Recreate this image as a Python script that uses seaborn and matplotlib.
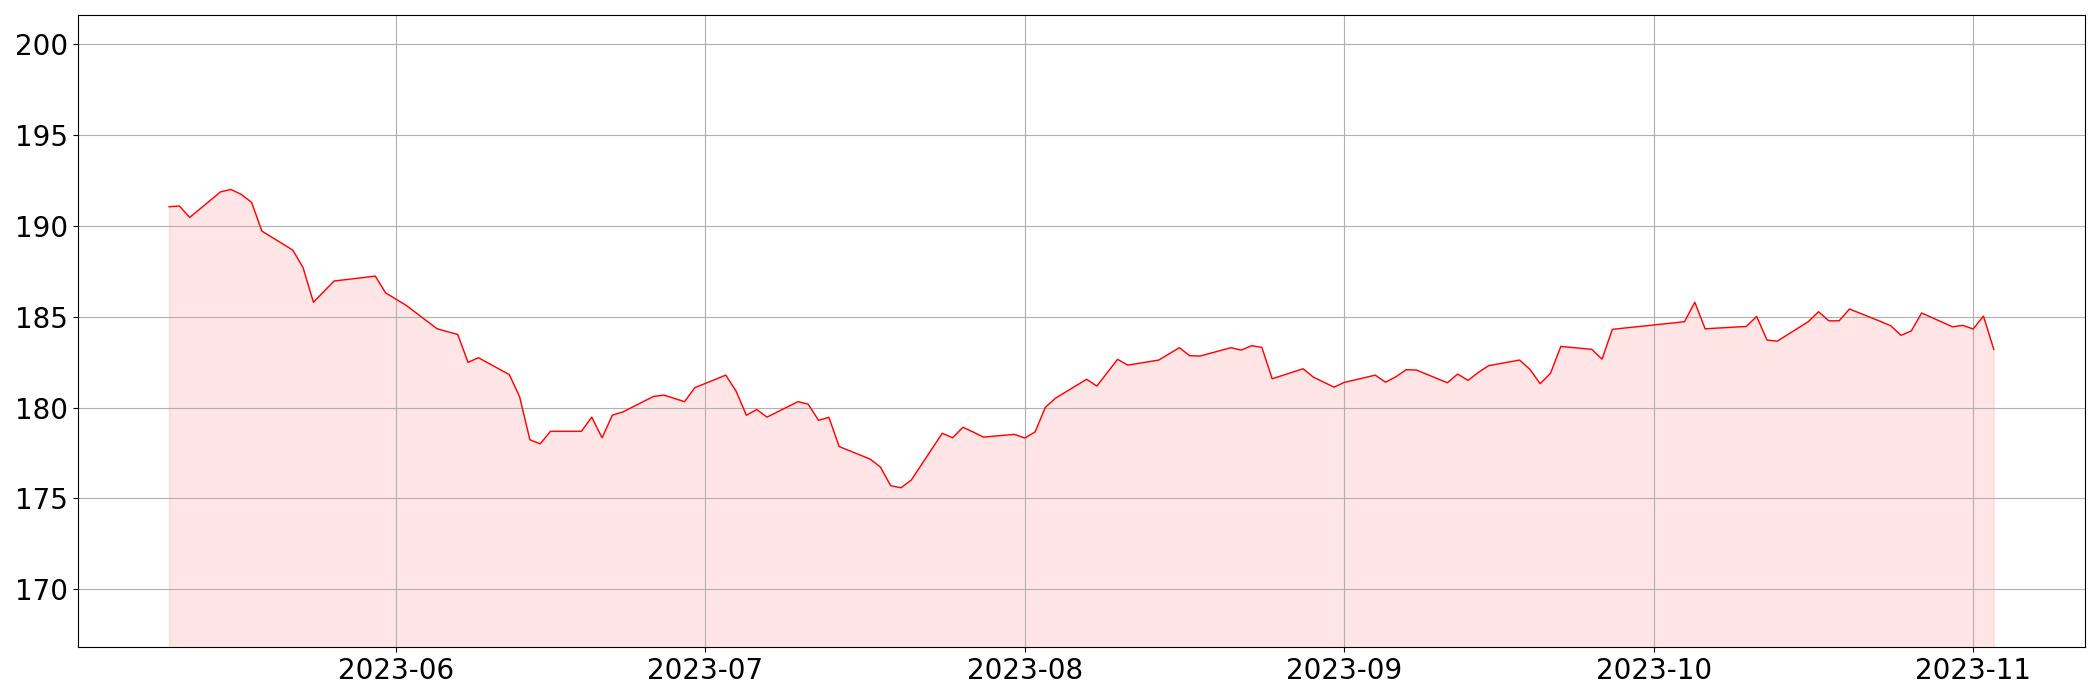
import matplotlib.pyplot as plt
import seaborn as sns
import pandas as pd

# daily closing prices
dates = [
    '2023-05-10', '2023-05-11', '2023-05-12', '2023-05-15', '2023-05-16', '2023-05-17',
    '2023-05-18', '2023-05-19', '2023-05-22', '2023-05-23', '2023-05-24', '2023-05-26',
    '2023-05-30', '2023-05-31', '2023-06-02', '2023-06-05', '2023-06-07', '2023-06-08',
    '2023-06-09', '2023-06-12', '2023-06-13', '2023-06-14', '2023-06-15', '2023-06-16',
    '2023-06-19', '2023-06-20', '2023-06-21', '2023-06-22', '2023-06-23', '2023-06-26',
    '2023-06-27', '2023-06-29', '2023-06-30', '2023-07-03', '2023-07-04', '2023-07-05',
    '2023-07-06', '2023-07-07', '2023-07-10', '2023-07-11', '2023-07-12', '2023-07-13',
    '2023-07-14', '2023-07-17', '2023-07-18', '2023-07-19', '2023-07-20', '2023-07-21',
    '2023-07-24', '2023-07-25', '2023-07-26', '2023-07-27', '2023-07-28', '2023-07-31',
    '2023-08-01', '2023-08-02', '2023-08-03', '2023-08-04', '2023-08-07', '2023-08-08',
    '2023-08-10', '2023-08-11', '2023-08-14', '2023-08-16', '2023-08-17', '2023-08-18',
    '2023-08-21', '2023-08-22', '2023-08-23', '2023-08-24', '2023-08-25', '2023-08-28',
    '2023-08-29', '2023-08-31', '2023-09-01', '2023-09-04', '2023-09-05', '2023-09-06',
    '2023-09-07', '2023-09-08', '2023-09-11', '2023-09-12', '2023-09-13', '2023-09-14',
    '2023-09-15', '2023-09-18', '2023-09-19', '2023-09-20', '2023-09-21', '2023-09-22',
    '2023-09-25', '2023-09-26', '2023-09-27', '2023-10-04', '2023-10-05', '2023-10-06',
    '2023-10-10', '2023-10-11', '2023-10-12', '2023-10-13', '2023-10-16', '2023-10-17',
    '2023-10-18', '2023-10-19', '2023-10-20', '2023-10-23', '2023-10-24', '2023-10-25',
    '2023-10-26', '2023-10-27', '2023-10-30', '2023-10-31', '2023-11-01', '2023-11-02',
    '2023-11-03',
]
prices = [
    191.06, 191.10, 190.47, 191.88, 192.01, 191.74,
    191.30, 189.72, 188.67, 187.70, 185.80, 186.97,
    187.24, 186.32, 185.63, 184.34, 184.03, 182.49,
    182.75, 181.82, 180.60, 178.23, 178.01, 178.70,
    178.70, 179.48, 178.34, 179.59, 179.76, 180.62,
    180.69, 180.33, 181.10, 181.79, 180.91, 179.58,
    179.90, 179.48, 180.33, 180.19, 179.30, 179.47,
    177.86, 177.17, 176.73, 175.70, 175.59, 176.02,
    178.59, 178.34, 178.92, 178.66, 178.38, 178.53,
    178.33, 178.66, 180.02, 180.53, 181.56, 181.19,
    182.66, 182.34, 182.62, 183.30, 182.86, 182.84,
    183.30, 183.17, 183.41, 183.32, 181.59, 182.14,
    181.68, 181.13, 181.39, 181.79, 181.40, 181.70,
    182.09, 182.07, 181.37, 181.85, 181.50, 181.94,
    182.31, 182.62, 182.11, 181.32, 181.89, 183.37,
    183.21, 182.67, 184.31, 184.73, 185.80, 184.34,
    184.47, 185.02, 183.72, 183.66, 184.73, 185.28,
    184.78, 184.78, 185.43, 184.75, 184.51, 183.98,
    184.22, 185.21, 184.45, 184.53, 184.33, 185.04,
    183.21,
]

df = pd.DataFrame({'date': pd.to_datetime(dates), 'price': prices})
low = df['price'].min() * 0.95
high = df['price'].max() * 1.05

fig, ax = plt.subplots(figsize=(21, 7), dpi=100)

sns.lineplot(data=df, x='date', y='price', color='red', linewidth=1, ax=ax)
ax.fill_between(df['date'], df['price'], low, color='red', alpha=0.1)

ax.set_ylim(low, high)
ax.set_xlabel('')
ax.set_ylabel('')
ax.grid(True)
ax.tick_params(labelsize=20)

plt.tight_layout()
plt.savefig('out.png')
